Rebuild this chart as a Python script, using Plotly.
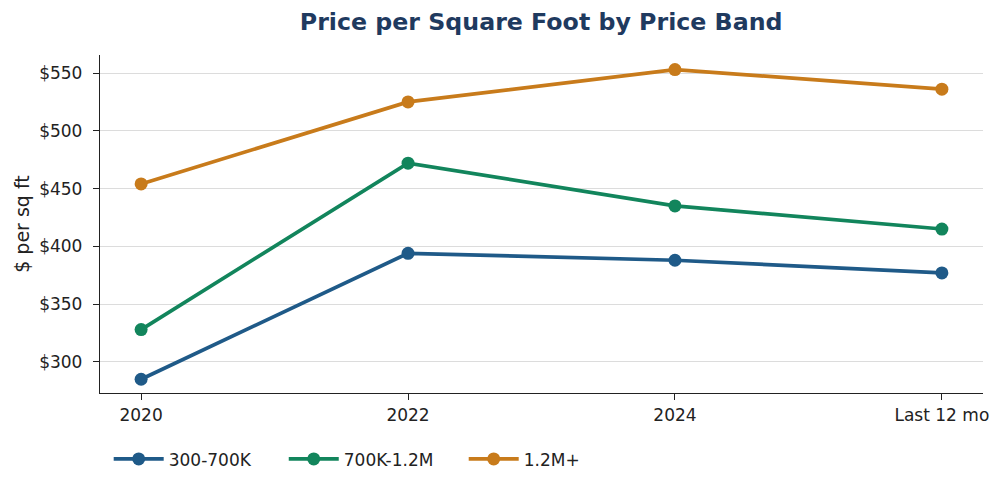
import plotly.graph_objects as go

categories = ["2020", "2022", "2024", "Last 12 mo"]
band_300_700k = [285, 394, 388, 377]
band_700k_1_2m = [328, 472, 435, 415]
band_1_2m_plus = [454, 525, 553, 536]
series_names = ["300-700K", "700K-1.2M", "1.2M+"]
colors = ["#1f5a88", "#12855c", "#c87b1b"]
y_ticks = [300, 350, 400, 450, 500, 550]
y_tick_labels = ["$300", "$350", "$400", "$450", "$500", "$550"]

legend_ids = ["legend", "legend2", "legend3"]
legend_x = [0.00985, 0.2081, 0.4119]

fig = go.Figure()
for name, vals, col, lid in zip(series_names, [band_300_700k, band_700k_1_2m, band_1_2m_plus], colors, legend_ids):
    fig.add_trace(go.Scatter(
        x=list(range(len(categories))), y=vals, name=name,
        mode="lines+markers",
        line=dict(color=col, width=3.7),
        marker=dict(color=col, size=13),
        legend=lid,
    ))

legend_common = dict(orientation="h", xanchor="left", y=-0.143, yanchor="top",
                     font=dict(size=17, color="#222"), itemwidth=50,
                     bgcolor="rgba(0,0,0,0)")

fig.update_layout(
    width=1004, height=487,
    margin=dict(l=100, r=21, t=55, b=94, autoexpand=False),
    paper_bgcolor="white", plot_bgcolor="white",
    font=dict(family="DejaVu Sans", size=17, color="#222"),
    title=dict(text="<b>Price per Square Foot by Price Band</b>", x=0.539, xanchor="center",
               y=1 - 22/487, yanchor="middle",
               font=dict(size=23.7, color="#1f3a5f", family="DejaVu Sans")),
    showlegend=True,
    legend=dict(x=legend_x[0], **legend_common),
    legend2=dict(x=legend_x[1], **legend_common),
    legend3=dict(x=legend_x[2], **legend_common),
    xaxis=dict(
        tickmode="array", tickvals=list(range(len(categories))), ticktext=categories,
        range=[-0.154, 3.154], showgrid=False, zeroline=False,
        showline=True, linecolor="#222", linewidth=1.3,
        ticks="outside", ticklen=6, tickcolor="#222",
        tickfont=dict(size=17, color="#222"), ticklabelstandoff=0,
    ),
    yaxis=dict(
        tickmode="array", tickvals=y_ticks, ticktext=y_tick_labels,
        range=[273.1, 565.6], showgrid=True, gridcolor="#dcdcdc", gridwidth=1,
        zeroline=False, showline=True, linecolor="#222", linewidth=1.3,
        ticks="outside", ticklen=6, tickcolor="#222",
        tickfont=dict(size=17, color="#222"), ticklabelstandoff=7,
        title=dict(text="$ per sq ft", font=dict(size=19, color="#222"), standoff=4),
    ),
)

fig.write_html("out.html")
